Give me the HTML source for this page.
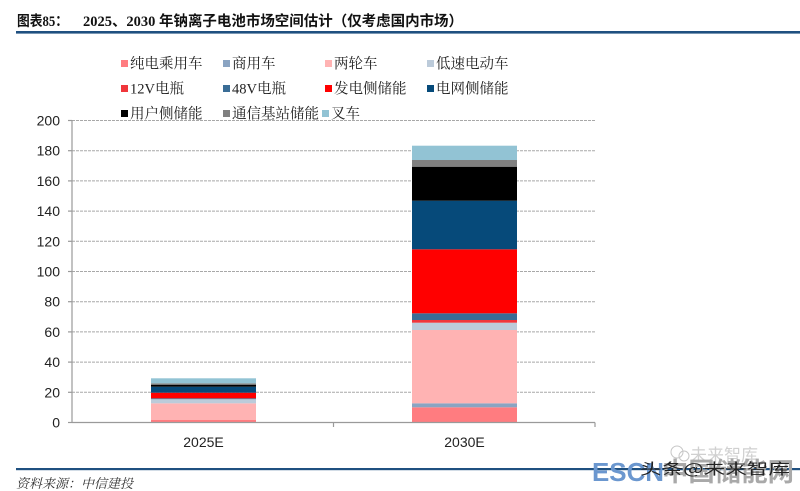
<!DOCTYPE html>
<html>
<head>
<meta charset="utf-8">
<style>
html,body{margin:0;padding:0;background:#fff;}
svg{display:block;}
</style>
</head>
<body>
<svg width="800" height="491" viewBox="0 0 800 491" xmlns="http://www.w3.org/2000/svg">
<rect width="800" height="491" fill="#fff"/>
<!-- Title -->
<text x="17" y="26" font-family="'Liberation Serif','Noto Sans CJK SC',serif" font-weight="bold" font-size="14.5" fill="#111" textLength="51" lengthAdjust="spacingAndGlyphs">图表85：</text>
<text x="83" y="26" font-family="'Liberation Serif','Noto Sans CJK SC',serif" font-weight="bold" font-size="14.5" fill="#111" textLength="380" lengthAdjust="spacingAndGlyphs">2025、2030 年钠离子电池市场空间估计（仅考虑国内市场）</text>
<rect x="16" y="31" width="784" height="2.6" fill="#1f5080"/>

<!-- Legend -->
<g font-family="'Liberation Serif','Noto Serif CJK SC',serif" font-size="14.5" fill="#222">
<rect x="121" y="60" width="7" height="7" fill="#ff7c80"/><text x="130" y="68.5">纯电乘用车</text>
<rect x="223" y="60" width="7" height="7" fill="#8aa4c2"/><text x="232" y="68.5">商用车</text>
<rect x="325" y="60" width="7" height="7" fill="#ffb3b3"/><text x="334" y="68.5">两轮车</text>
<rect x="427" y="60" width="7" height="7" fill="#bccbda"/><text x="436" y="68.5">低速电动车</text>

<rect x="121" y="85" width="7" height="7" fill="#f0363b"/><text x="130" y="93.5">12V电瓶</text>
<rect x="223" y="85" width="7" height="7" fill="#3a6d96"/><text x="232" y="93.5">48V电瓶</text>
<rect x="325" y="85" width="7" height="7" fill="#ff0000"/><text x="334" y="93.5">发电侧储能</text>
<rect x="427" y="85" width="7" height="7" fill="#064a7a"/><text x="436" y="93.5">电网侧储能</text>

<rect x="121" y="110" width="7" height="7" fill="#000"/><text x="130" y="118.5">用户侧储能</text>
<rect x="223" y="110" width="7" height="7" fill="#808080"/><text x="232" y="118.5">通信基站储能</text>
<rect x="322" y="110" width="7" height="7" fill="#92c3d4"/><text x="331" y="118.5">叉车</text>
</g>

<!-- Gridlines -->
<g stroke="#a8a8a8" stroke-width="1" stroke-dasharray="3,1">
<line x1="72" y1="120.5" x2="595" y2="120.5"/>
<line x1="72" y1="150.7" x2="595" y2="150.7"/>
<line x1="72" y1="180.9" x2="595" y2="180.9"/>
<line x1="72" y1="211.1" x2="595" y2="211.1"/>
<line x1="72" y1="241.3" x2="595" y2="241.3"/>
<line x1="72" y1="271.5" x2="595" y2="271.5"/>
<line x1="72" y1="301.7" x2="595" y2="301.7"/>
<line x1="72" y1="331.9" x2="595" y2="331.9"/>
<line x1="72" y1="362.1" x2="595" y2="362.1"/>
<line x1="72" y1="392.3" x2="595" y2="392.3"/>
</g>

<!-- Bars 2025E -->
<g>
<rect x="151" y="420" width="105" height="2" fill="#ff7c80"/>
<rect x="151" y="403.3" width="105" height="16.7" fill="#ffb3b3"/>
<rect x="151" y="399" width="105" height="4.3" fill="#bccbda"/>
<rect x="151" y="398.3" width="105" height="0.8" fill="#3a6d96"/>
<rect x="151" y="392.7" width="105" height="5.6" fill="#ff0000"/>
<rect x="151" y="386.7" width="105" height="6" fill="#064a7a"/>
<rect x="151" y="384.7" width="105" height="2" fill="#000"/>
<rect x="151" y="383.3" width="105" height="1.4" fill="#808080"/>
<rect x="151" y="378.3" width="105" height="5" fill="#92c3d4"/>
</g>
<!-- Bars 2030E -->
<g>
<rect x="412" y="407.3" width="105" height="14.7" fill="#ff7c80"/>
<rect x="412" y="403.3" width="105" height="4" fill="#8aa4c2"/>
<rect x="412" y="330" width="105" height="73.3" fill="#ffb3b3"/>
<rect x="412" y="322.7" width="105" height="7.3" fill="#bccbda"/>
<rect x="412" y="320" width="105" height="2.7" fill="#f0363b"/>
<rect x="412" y="313.3" width="105" height="6.7" fill="#3a6d96"/>
<rect x="412" y="249.3" width="105" height="64" fill="#ff0000"/>
<rect x="412" y="200.7" width="105" height="48.6" fill="#064a7a"/>
<rect x="412" y="166.7" width="105" height="34" fill="#000"/>
<rect x="412" y="160" width="105" height="6.7" fill="#808080"/>
<rect x="412" y="145.7" width="105" height="14.3" fill="#92c3d4"/>
</g>

<!-- Axes -->
<g stroke="#9a9a9a" stroke-width="1.2">
<line x1="72" y1="120" x2="72" y2="422.5"/>
<line x1="72" y1="422.5" x2="595" y2="422.5"/>
<line x1="68" y1="120.5" x2="72" y2="120.5"/>
<line x1="68" y1="150.7" x2="72" y2="150.7"/>
<line x1="68" y1="180.9" x2="72" y2="180.9"/>
<line x1="68" y1="211.1" x2="72" y2="211.1"/>
<line x1="68" y1="241.3" x2="72" y2="241.3"/>
<line x1="68" y1="271.5" x2="72" y2="271.5"/>
<line x1="68" y1="301.7" x2="72" y2="301.7"/>
<line x1="68" y1="331.9" x2="72" y2="331.9"/>
<line x1="68" y1="362.1" x2="72" y2="362.1"/>
<line x1="68" y1="392.3" x2="72" y2="392.3"/>
<line x1="68" y1="422.5" x2="72" y2="422.5"/>
<line x1="333.5" y1="422.5" x2="333.5" y2="427"/>
<line x1="595" y1="422.5" x2="595" y2="427"/>
</g>

<!-- Y labels -->
<g font-family="'Liberation Sans',sans-serif" font-size="14" fill="#222" text-anchor="end">
<text x="60" y="125.5">200</text>
<text x="60" y="155.7">180</text>
<text x="60" y="185.9">160</text>
<text x="60" y="216.1">140</text>
<text x="60" y="246.3">120</text>
<text x="60" y="276.5">100</text>
<text x="60" y="306.7">80</text>
<text x="60" y="336.9">60</text>
<text x="60" y="367.1">40</text>
<text x="60" y="397.3">20</text>
<text x="60" y="427.5">0</text>
</g>

<!-- X labels -->
<g font-family="'Liberation Sans',sans-serif" font-size="14" fill="#222" text-anchor="middle">
<text x="203.5" y="447">2025E</text>
<text x="464.5" y="447">2030E</text>
</g>

<!-- Watermark faint -->
<g opacity="0.55">
<circle cx="677" cy="452" r="6" fill="none" stroke="#999" stroke-width="1"/>
<circle cx="684" cy="456" r="5" fill="none" stroke="#999" stroke-width="1"/>
<text x="690" y="461" font-family="'Noto Sans CJK SC',sans-serif" font-size="17" fill="#aaa">未来智库</text>
</g>

<!-- Bottom line -->
<rect x="16" y="468" width="784" height="2.2" fill="#1f5080"/>

<!-- ESCN watermark -->
<text x="592" y="481" font-family="'Liberation Sans',sans-serif" font-weight="bold" font-size="26" fill="#6b97cf" textLength="72" lengthAdjust="spacingAndGlyphs">ESCN</text>
<text x="662" y="481" font-family="'Noto Sans CJK SC',sans-serif" font-weight="bold" font-size="26" fill="#a9a9a9" textLength="132" lengthAdjust="spacingAndGlyphs">中国储能网</text>
<text x="640" y="474" font-family="'Noto Sans CJK SC',sans-serif" font-size="15" fill="#222" textLength="150" lengthAdjust="spacingAndGlyphs">头条@未来智库</text>

<!-- Source -->
<text x="16" y="488" font-family="'Liberation Serif','Noto Serif CJK SC',serif" font-style="italic" font-size="13" fill="#333" textLength="117" lengthAdjust="spacingAndGlyphs">资料来源：中信建投</text>
</svg>
</body>
</html>
